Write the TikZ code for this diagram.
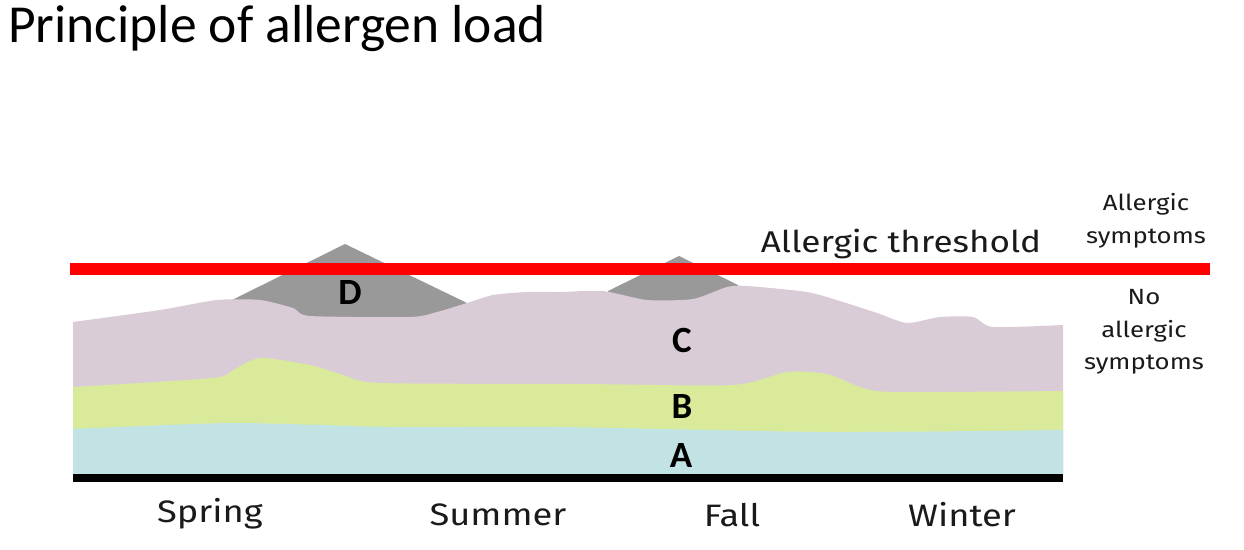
\documentclass[tikz,border=0pt]{standalone}
\usepackage{fontspec}
\setmainfont{Fira Sans}
\newfontfamily\titlefont{Carlito}
\definecolor{layA}{HTML}{C1E3E4}
\definecolor{layB}{HTML}{D9EB9B}
\definecolor{layC}{HTML}{D9CCD6}
\definecolor{layD}{HTML}{999999}
\definecolor{thr}{HTML}{FF0000}
\definecolor{txt}{HTML}{1A1A1A}
\newcommand{\wide}[1]{\scalebox{1.17}[1]{#1}}
\begin{document}
\begin{tikzpicture}[x=1pt,y=-1pt,
  lbl/.style={font=\titlefont\bfseries\fontsize{37}{37}\selectfont, text=black, inner sep=0pt},
  season/.style={font=\fontsize{31}{31}\selectfont, text=txt, inner sep=0pt},
  side/.style={font=\fontsize{22}{32.5}\selectfont, text=txt, align=center, inner sep=0pt}]
\useasboundingbox (0,0) rectangle (1244,549);
\fill[white] (0,0) rectangle (1244,549);
% title
\node[font=\titlefont\fontsize{53.5}{53.5}\selectfont, anchor=base west, inner sep=0pt, text=black] (title) at (8,42) {Principle of allergen load};
% D peaks
\fill[layD] (232,300) -- (345,244) -- (467,303) -- (467,330) -- (232,330) -- cycle;
\fill[layD] (608,291) -- (679,256) -- (738,285) -- (738,320) -- (608,320) -- cycle;
% C layer
\fill[layC] (73,474) -- plot[smooth, tension=0.4] coordinates {(73,322) (160,310) (217,300) (260,300) (293,308) (310,316) (410,317) (437,312) (467,303) (493,295) (527,292) (560,292) (603,291) (647,300) (693,299) (727,287) (747,286) (807,292) (843,302) (877,313) (907,323) (940,317) (973,317) (993,327) (1063,325)}
  -- (1063,474) -- cycle;
% B layer
\fill[layB] (73,474) -- plot[smooth, tension=0.4] coordinates {(73,387) (213,378) (233,370) (260,358) (310,365) (343,375) (380,383) (580,384) (733,385) (787,372) (827,374) (860,387) (893,392) (1063,391)}
  -- (1063,474) -- cycle;
% A layer
\fill[layA] (73,474) -- plot[smooth, tension=0.4] coordinates {(73,429) (233,423) (393,427) (560,427) (827,432) (1063,430)}
  -- (1063,474) -- cycle;
% baseline
\fill[black] (73,474) rectangle (1063,482);
% threshold
\fill[thr] (70,263) rectangle (1210,275);
% labels
\node[lbl] (D) at (350,292) {D};
\node[lbl] (C) at (682,340) {C};
\node[lbl] (B) at (682,406) {B};
\node[lbl] (A) at (681,455) {A};
\node[font=\fontsize{30}{30}\selectfont, text=txt, inner sep=0pt] (thrl) at (901,244) {\wide{Allergic threshold}};
\node[side] (as) at (1146,221) {\wide{Allergic}\\\wide{symptoms}};
\node[side] (nas) at (1144,332) {\wide{No}\\\wide{allergic}\\\wide{symptoms}};
\node[season] (sp) at (210,514) {\wide{Spring}};
\node[season] (su) at (498,515) {\wide{Summer}};
\node[season] (fa) at (732,515) {\wide{Fall}};
\node[season] (wi) at (962,515) {\wide{Winter}};
\end{tikzpicture}
\end{document}
